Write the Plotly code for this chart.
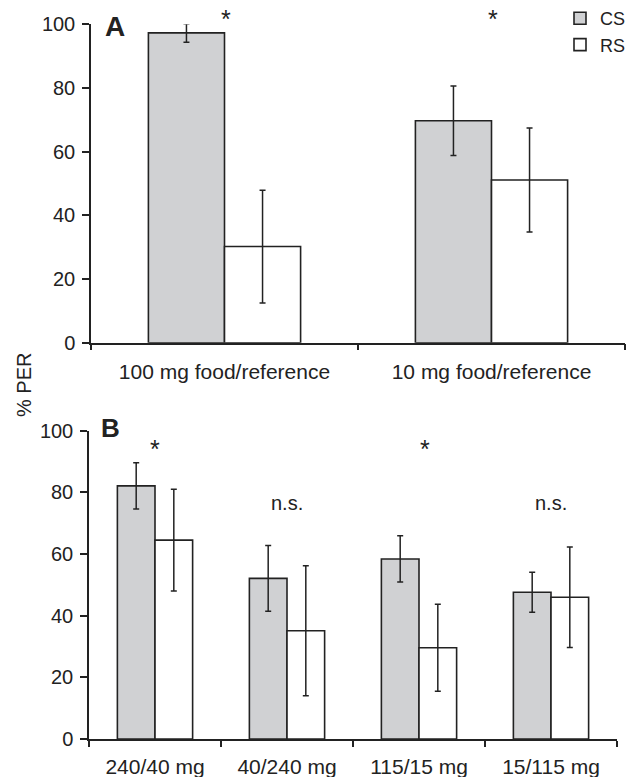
import plotly.graph_objects as go

W, H = 629, 777

# ---- data ----
cats_a = ["100 mg food/reference", "10 mg food/reference"]
cs_a = [97.3, 69.7]
cs_a_err = [2.9, 10.9]
rs_a = [30.2, 51.1]
rs_a_err = [17.7, 16.3]

cats_b = ["240/40 mg", "40/240 mg", "115/15 mg", "15/115 mg"]
cs_b = [82.1, 52.1, 58.4, 47.6]
cs_b_err = [7.5, 10.7, 7.5, 6.5]
rs_b = [64.5, 35.1, 29.6, 46.0]
rs_b_err = [16.5, 21.1, 14.1, 16.3]

sig_a = ["*", "*"]
sig_b = ["*", "n.s.", "*", "n.s."]
sig_b_y = [94, 76.5, 94, 76.5]
sig_b_shift = [0, 0, 6, 0]

y_ticks = [0, 20, 40, 60, 80, 100]

# ---- style ----
INK = "#222222"
GREY = "#d0d1d3"
FONT = "Liberation Sans, Arial, Helvetica, sans-serif"

def px_x(p):
    return p / W

def px_y(p):
    return 1 - p / H

fig = go.Figure()

def add_bars(cats, vals, errs, color, name, xa, ya, show):
    fig.add_trace(go.Bar(
        x=cats, y=vals, name=name, legendgroup=name, showlegend=show,
        marker=dict(color=color, line=dict(color=INK, width=1.6)),
        error_y=dict(type="data", array=errs, visible=True,
                     color=INK, thickness=1.5, width=3),
        xaxis=xa, yaxis=ya,
    ))

add_bars(cats_a, cs_a, cs_a_err, GREY, "CS", "x", "y", True)
add_bars(cats_a, rs_a, rs_a_err, "white", "RS", "x", "y", True)
add_bars(cats_b, cs_b, cs_b_err, GREY, "CS", "x2", "y2", False)
add_bars(cats_b, rs_b, rs_b_err, "white", "RS", "x2", "y2", False)

axis_common = dict(
    showline=True, linecolor=INK, linewidth=1.5,
    ticks="outside", tickcolor=INK, tickwidth=1.5,
    showgrid=False, zeroline=False, automargin=False,
)
xfont = dict(family=FONT, size=21, color=INK)
yfont = dict(family=FONT, size=20, color=INK)

fig.update_layout(
    width=W, height=H,
    margin=dict(l=0, r=0, t=0, b=0, autoexpand=False),
    paper_bgcolor="white", plot_bgcolor="white",
    barmode="group", bargap=0.43, bargroupgap=0,
    font=dict(family=FONT, color=INK),
    xaxis=dict(domain=[px_x(91), px_x(625)], anchor="y",
               type="category", tickson="boundaries", ticklen=6,
               ticklabelstandoff=9, tickfont=xfont, **axis_common),
    yaxis=dict(domain=[px_y(342.7), px_y(24.3)], anchor="x",
               range=[0, 100], tickvals=y_ticks, ticklen=7,
               ticklabelstandoff=3, tickfont=yfont, **axis_common),
    xaxis2=dict(domain=[px_x(89), px_x(617)], anchor="y2",
                type="category", tickson="boundaries", ticklen=6,
                ticklabelstandoff=8, tickfont=xfont, **axis_common),
    yaxis2=dict(domain=[px_y(739), px_y(430.7)], anchor="x2",
                range=[0, 100], tickvals=y_ticks, ticklen=7,
                ticklabelstandoff=3, tickfont=yfont, **axis_common),
    showlegend=True,
    legend=dict(x=px_x(560), y=px_y(0), xanchor="left", yanchor="top",
                font=dict(family=FONT, size=18, color=INK),
                traceorder="grouped", tracegroupgap=0,
                bgcolor="rgba(0,0,0,0)"),
)

annotations = []
for c, t in zip(cats_a, sig_a):
    annotations.append(dict(x=c, y=1.016, xref="x", yref="y domain", text=t,
                            showarrow=False, font=dict(size=25, color=INK),
                            xanchor="center", yanchor="middle", xshift=1))
for c, t, yv, s in zip(cats_b, sig_b, sig_b_y, sig_b_shift):
    star = t == "*"
    annotations.append(dict(x=c, y=yv, xref="x2", yref="y2", text=t,
                            showarrow=False,
                            font=dict(size=25 if star else 20, color=INK),
                            xanchor="center", yanchor="middle", xshift=s))
annotations += [
    dict(x=px_x(114.5), y=px_y(26), xref="paper", yref="paper", text="<b>A</b>",
         showarrow=False, font=dict(size=28, color=INK),
         xanchor="center", yanchor="middle"),
    dict(x=px_x(110), y=px_y(428), xref="paper", yref="paper", text="<b>B</b>",
         showarrow=False, font=dict(size=26, color=INK),
         xanchor="center", yanchor="middle"),
    dict(x=px_x(24), y=px_y(385), xref="paper", yref="paper", text="% PER",
         textangle=-90, showarrow=False, font=dict(size=20, color=INK),
         xanchor="center", yanchor="middle"),
]
fig.update_layout(annotations=annotations)

fig.write_html("out.html")
